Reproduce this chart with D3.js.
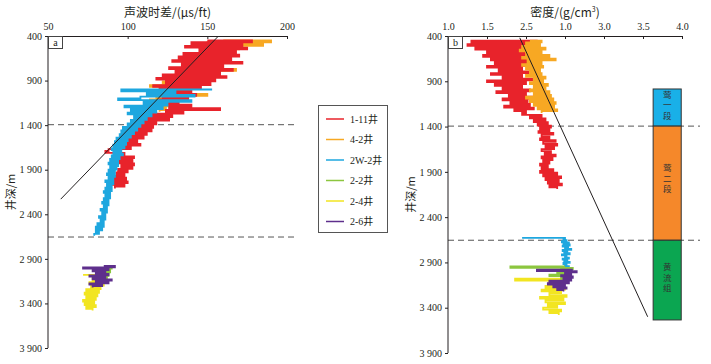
<!DOCTYPE html>
<html lang="zh">
<head>
<meta charset="utf-8">
<title>声波时差与密度</title>
<script src="https://cdn.jsdelivr.net/npm/d3@7"></script>
<style>
  body { margin: 0; background: #fff; }
  svg { display: block; }
  .serif { font-family: "Liberation Serif", "DejaVu Serif", serif; }
  .cjk { font-family: "Noto Sans CJK SC", sans-serif; }
</style>
</head>
<body>
<script>
// ---- data --------------------------------------------------------------
const wells = ["1-11井", "4-2井", "2W-2井", "2-2井", "2-4井", "2-6井"];
const wellColors = ["#e8232b", "#f7a823", "#1ea7df", "#8cc63f", "#f2e521", "#5e2f8c"];

const dtTicks = [50, 100, 150, 200];
const denTicks = [1.0, 1.5, 2.0, 2.5, 3.0, 3.5, 4.0];
const denTickLabels = ["1.0", "1.5", "2.5", "1.0", "3.0", "3.5", "4.0"];   // as printed
const depthTicks = [400, 900, 1400, 1900, 2400, 2900, 3400, 3900];
const boundaries = [1395, 2655];

// acoustic logs (us/ft): top depth, sample step, values
const dt_1_11 = {top: 450, step: 20, v: [150,178,140,172,136,175,145,168,135,170,132,165,128,172,134,160,126,166,130,158,122,162,118,155,124,152,116,146,120,140,118,143,122,138,120,132,125,140,126,158,124,135,112,128,110,126,106,118,103,116,100,115,97,112,98,110,95,106,93,108,94,102,88,86,98,92,104,94,103,95,104,96,103,94,100,93,98,91,99,90,100,89,98,92]};
const dt_4_2 = {top: 450, step: 20, v: [160,190,150,185,145,170,150,165,140,160,145,160,140,155,138,158,135,168,132,150,130,148,125,145,122,140,114,135,122,138,116,150,118,132,114,128,118,126,115,124,120]};
const dt_2w_2 = {top: 1000, step: 20, v: [153,96,130,112,142,108,94,140,110,125,98,122,102,118,100,115,104,112,102,110,100,108,97,106,96,104,95,102,93,100,92,99,91,98,90,96,91,97,90,95,89,94,88,94,89,93,88,92,87,92,88,91,86,91,87,90,86,90,85,89,86,89,85,88,84,88,85,87,83,87,84,86,82,86,83,85,81,85,80,84,80,82,79]};
const dt_2_2 = {top: 2990, step: 20, v: [88,90,84,89,85,88,82,87]};
const dt_2_4 = {top: 3080, step: 20, v: [72,80,86,78,84,76,85,77,83,74,82,73,81,74,80,72,79,73,80,74,78]};
const dt_2_6 = {top: 2980, step: 15, v: [85,92,72,88,78,86,80,88,76,86,78,90,80,88,76,84,78]};
const dtLine = [[58, 2230], [157, 400]];

// density logs (g/cm3)
const den_1_11 = {top: 450, step: 20, v: [2.15,1.3,2.1,1.25,2.12,1.35,2.05,1.5,2.1,1.45,2.0,1.55,2.1,1.6,2.0,1.5,1.95,1.65,2.05,1.55,1.95,1.7,2.1,1.5,2.0,1.6,1.95,1.7,2.05,1.62,2.0,1.78,2.08,1.7,2.02,1.8,2.05,1.72,2.1,1.85,2.0,1.95,2.2,2.05,2.25,2.1,2.28,2.15,2.32,2.18,2.3,2.16,2.35,2.2,2.3,2.18,2.38,2.22,2.4,2.25,2.36,2.2,2.32,2.24,2.38,2.2,2.34,2.22,2.3,2.18,2.28,2.2,2.35,2.18,2.4,2.22,2.45,2.25,2.42,2.28,2.46,2.3,2.4]};
const den_4_2 = {top: 450, step: 20, v: [2.05,2.2,2.0,2.18,1.95,2.25,1.92,2.2,2.0,2.3,1.95,2.38,2.02,2.2,1.95,2.22,2.0,2.18,2.05,2.2,2.0,2.25,2.1,2.22,2.05,2.28,2.1,2.25,2.05,2.3,2.1,2.32,2.0,2.35,2.05,2.38,2.1,2.36,2.15,2.4,2.2]};
const den_2w_2 = {top: 2630, step: 12, v: [1.95,2.5,2.48,2.52,2.46,2.55,2.48,2.56,2.47,2.54,2.5,2.58,2.47,2.53,2.49,2.56,2.46,2.52,2.5,2.55,2.47,2.53,2.49,2.56,2.48,2.52,2.5,2.55]};
const den_2_2 = {top: 2945, step: 15, v: [2.5,1.8,2.6,2.45,2.52,2.4,2.55,2.3,2.5,2.45,2.52]};
const den_2_4 = {top: 3080, step: 20, v: [2.5,1.86,2.52,2.3,2.48,2.25,2.5,2.2,2.45,2.3,2.52,2.18,2.48,2.25,2.5,2.28,2.4,2.22,2.45,2.3,2.42]};
const den_2_6 = {top: 2980, step: 15, v: [2.6,2.14,2.65,2.5,2.58,2.45,2.6,2.48,2.58,2.3,2.55,2.28,2.5,2.35,2.52,2.4,2.48]};
const denLine = [[1.92, 420], [3.56, 3500]];

const strata = ["莺一段", "莺二段", "黄流组"];
const strataTop = [985, 1395, 2655];
const strataBottom = [1395, 2655, 3535];
const strataColors = ["#19b0e8", "#f5882a", "#0ba651"];

// ---- layout ------------------------------------------------------------
const W = 711, H = 364;
const svg = d3.select("body").append("svg").attr("width", W).attr("height", H);
const ink = "#231f20";

const xL = d3.scaleLinear().domain([50, 200]).range([48, 287]);
const yL = d3.scaleLinear().domain([400, 3900]).range([36, 348]);
const xR = d3.scaleLinear().domain([1, 4]).range([448, 682]);
const yR = d3.scaleLinear().domain([400, 3900]).range([36, 353]);

const depthFmt = d => d < 1000 ? String(d) : Math.floor(d / 1000) + " " + String(d % 1000).padStart(3, "0");

function toPts(log) {
  return log.v.map((v, i) => [v, log.top + i * log.step]);
}

function panel(x, y, xTicks, xLabels, title, letter, dashEnd, logs, trend) {
  const g = svg.append("g");

  // dashed formation boundaries
  g.selectAll("line.dash").data(boundaries).enter().append("line")
    .attr("x1", x.range()[0]).attr("x2", dashEnd)
    .attr("y1", d => y(d)).attr("y2", d => y(d))
    .attr("stroke", "#555").attr("stroke-width", 1).attr("stroke-dasharray", "6,4");

  // logs - drawn as steps so each sample shows as a horizontal spike
  const logLine = d3.line().x(d => x(d[0])).y(d => y(d[1])).curve(d3.curveStepAfter);
  logs.forEach(l => {
    g.append("path").datum(toPts(l.log))
      .attr("d", logLine).attr("fill", "none")
      .attr("stroke", wellColors[l.well]).attr("stroke-width", 1.8);
  });

  // trend line
  const line = d3.line().x(d => x(d[0])).y(d => y(d[1]));
  g.append("path").datum(trend).attr("d", line)
    .attr("fill", "none").attr("stroke", ink).attr("stroke-width", 1);

  // top axis
  const top = d3.axisTop(x).tickValues(xTicks).tickSize(-3).tickPadding(6)
    .tickFormat((d, i) => xLabels ? xLabels[i] : d);
  const ga = g.append("g").attr("transform", `translate(0,${y.range()[0]})`).call(top);
  ga.select(".domain").attr("stroke", ink);
  ga.selectAll(".tick line").attr("stroke", ink);
  ga.selectAll("text").attr("class", "serif").attr("font-size", 10).attr("fill", ink);

  // left axis
  const left = d3.axisLeft(y).tickValues(depthTicks).tickSize(3).tickPadding(3).tickFormat(depthFmt);
  const gl = g.append("g").attr("transform", `translate(${x.range()[0]},0)`).call(left);
  gl.select(".domain").attr("stroke", ink).attr("d", `M0,${y.range()[0]}V${y.range()[1]}`);
  gl.selectAll(".tick line").attr("stroke", ink);
  gl.selectAll("text").attr("class", "serif").attr("font-size", 10).attr("fill", ink);

  // titles
  const mid = (x.range()[0] + x.range()[1]) / 2;
  g.append("text").attr("x", mid).attr("y", 17).attr("text-anchor", "middle")
    .attr("class", "cjk").attr("font-size", 12).attr("fill", ink).text(title);
  g.append("text").attr("transform", `translate(${x.range()[0] - 33},${(y.range()[0] + y.range()[1]) / 2}) rotate(-90)`)
    .attr("text-anchor", "middle").attr("class", "cjk").attr("font-size", 11).attr("fill", ink).text("井深/m");

  // panel letter
  const x0 = x.range()[0], y0 = y.range()[0];
  g.append("rect").attr("x", x0 + 0.5).attr("y", y0 + 0.5).attr("width", 14).attr("height", 12)
    .attr("fill", "#fff").attr("stroke", "#444").attr("stroke-width", 1);
  g.append("text").attr("x", x0 + 7.5).attr("y", y0 + 10).attr("text-anchor", "middle")
    .attr("class", "serif").attr("font-size", 10).attr("fill", ink).text(letter);
  return g;
}

panel(xL, yL, dtTicks, null, "声波时差/(μs/ft)", "a", 298, [
  {log: dt_4_2, well: 1}, {log: dt_1_11, well: 0}, {log: dt_2w_2, well: 2},
  {log: dt_2_4, well: 4}, {log: dt_2_2, well: 3}, {log: dt_2_6, well: 5}
], dtLine);

panel(xR, yR, denTicks, denTickLabels, "", "b", 700, [
  {log: den_1_11, well: 0}, {log: den_4_2, well: 1}, {log: den_2w_2, well: 2},
  {log: den_2_4, well: 4}, {log: den_2_2, well: 3}, {log: den_2_6, well: 5}
], denLine);

// density title with superscript
const tR = svg.append("text").attr("x", (xR.range()[0] + xR.range()[1]) / 2).attr("y", 17)
  .attr("text-anchor", "middle").attr("class", "cjk").attr("font-size", 12).attr("fill", ink);
tR.append("tspan").text("密度/(g/cm");
tR.append("tspan").attr("font-size", 7).attr("dy", -5).text("3");
tR.append("tspan").attr("dy", 5).text(")");

// strata column
const colX = [3.63, 3.99];
const gs = svg.append("g");
strata.forEach((s, i) => {
  const y0 = yR(strataTop[i]), y1 = yR(strataBottom[i]);
  gs.append("rect").attr("x", xR(colX[0])).attr("y", y0)
    .attr("width", xR(colX[1]) - xR(colX[0])).attr("height", y1 - y0)
    .attr("fill", strataColors[i]).attr("stroke", "#333").attr("stroke-width", 1);
  const cy = i === 0 ? y0 + 9 : i === 1 ? y0 + 45 : y0 + 30;
  s.split("").forEach((c, j) => {
    gs.append("text").attr("x", (xR(colX[0]) + xR(colX[1])) / 2).attr("y", cy + j * 10.5)
      .attr("text-anchor", "middle").attr("class", "cjk").attr("font-size", 8.5)
      .attr("fill", "#333").text(c);
  });
});

// legend
const lg = svg.append("g").attr("transform", "translate(318,105)");
lg.append("rect").attr("x", 0.5).attr("y", 0.5).attr("width", 69).attr("height", 127)
  .attr("fill", "#fff").attr("stroke", "#555").attr("stroke-width", 1);
wells.forEach((w, i) => {
  const yy = 14 + i * 20.5;
  lg.append("line").attr("x1", 8).attr("x2", 26).attr("y1", yy).attr("y2", yy)
    .attr("stroke", wellColors[i]).attr("stroke-width", 1.5);
  lg.append("text").attr("x", 32).attr("y", yy + 3.5)
    .attr("font-family", "'Liberation Serif', 'Noto Sans CJK SC', serif")
    .attr("font-size", 10).attr("fill", ink).text(w);
});
</script>
</body>
</html>
